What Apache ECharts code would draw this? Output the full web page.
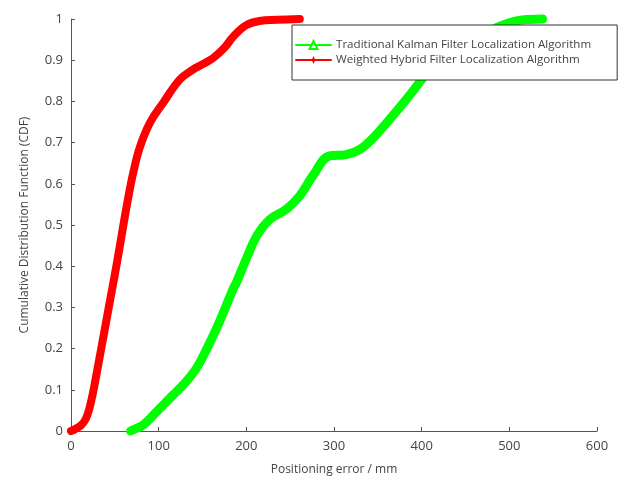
<!DOCTYPE html>
<html><head><meta charset="utf-8">
<script src="https://cdn.jsdelivr.net/npm/echarts@6/dist/echarts.min.js"></script>
<style>html,body{margin:0;padding:0;background:#fff;}#c{width:621px;height:481px;}</style>
</head><body><div id="c"></div>
<script>
const seriesNames = ['Traditional Kalman Filter Localization Algorithm', 'Weighted Hybrid Filter Localization Algorithm'];
const xTicks = [0, 100, 200, 300, 400, 500, 600];
const yTicks = [0, 0.1, 0.2, 0.3, 0.4, 0.5, 0.6, 0.7, 0.8, 0.9, 1];
const greenX = [68, 71, 82.5, 97.7, 113, 128, 143, 155, 166, 175.6, 185, 189, 200, 212, 227, 246, 261, 276, 295, 314, 330, 345, 360, 379, 394, 406, 420, 440, 460, 490, 507, 522, 538];
const greenY = [0, 0.003, 0.015, 0.047, 0.08, 0.112, 0.152, 0.2, 0.249, 0.297, 0.345, 0.362, 0.418, 0.474, 0.514, 0.539, 0.571, 0.62, 0.668, 0.671, 0.684, 0.712, 0.748, 0.796, 0.836, 0.869, 0.895, 0.928, 0.952, 0.983, 0.995, 0.999, 1.0];
const redX = [0, 5, 12, 17, 21, 25, 30, 35, 40, 45, 50, 55, 60, 65, 71, 78.7, 90, 105, 124, 139, 150, 162, 175, 185, 200, 215, 235, 261];
const redY = [0, 0.005, 0.015, 0.03, 0.055, 0.092, 0.148, 0.206, 0.264, 0.322, 0.38, 0.44, 0.503, 0.563, 0.627, 0.69, 0.748, 0.796, 0.853, 0.877, 0.89, 0.905, 0.93, 0.957, 0.985, 0.995, 0.998, 1.0];

const pairs = (xs, ys) => xs.map((x, i) => [x, ys[i]]);
const font = '"Open Sans", "Noto Sans", sans-serif';
const chart = echarts.init(document.getElementById('c'));
chart.setOption({
  animation: false,
  backgroundColor: '#fff',
  grid: { left: 71, right: 24, top: 19, bottom: 48 },
  legend: {
    orient: 'vertical', left: 292, top: 25,
    padding: [14, 26, 14, 3], itemGap: 3, itemWidth: 35, itemHeight: 10,
    backgroundColor: '#fff', borderColor: '#333', borderWidth: 1,
    textStyle: { fontFamily: font, fontSize: 11.6, color: '#444' },
    data: seriesNames
  },
  xAxis: {
    type: 'value', min: 0, max: 600, interval: 100,
    name: 'Positioning error / mm', nameLocation: 'middle', nameGap: 33,
    nameTextStyle: { fontFamily: font, fontSize: 12, color: '#444' },
    axisLine: { lineStyle: { color: '#555' } },
    axisTick: { inside: true, length: 4, lineStyle: { color: '#555' } },
    axisLabel: { fontFamily: font, fontSize: 13, color: '#444', margin: 9, formatter: v => xTicks.includes(v) ? String(v) : '' },
    splitLine: { show: false }
  },
  yAxis: {
    type: 'value', min: 0, max: 1, interval: 0.1,
    name: 'Cumulative Distribution Function (CDF)', nameLocation: 'middle', nameGap: 40,
    nameTextStyle: { fontFamily: font, fontSize: 12, color: '#444' },
    axisLine: { show: true, lineStyle: { color: '#555' } },
    axisTick: { show: true, inside: true, length: 4, lineStyle: { color: '#555' } },
    axisLabel: { fontFamily: font, fontSize: 13, color: '#444', margin: 8,
      formatter: v => { const t = yTicks.find(k => Math.abs(k - v) < 1e-6); return t === undefined ? '' : String(t); } },
    splitLine: { show: false }
  },
  series: [
    { name: seriesNames[0], type: 'line', data: pairs(greenX, greenY), smooth: 0.4,
      symbol: 'emptyTriangle', symbolSize: 8, showSymbol: false, clip: false, z: 2,
      itemStyle: { color: '#00ff00' }, lineStyle: { color: '#00ff00', width: 9, cap: 'round', join: 'round' } },
    { name: seriesNames[1], type: 'line', data: pairs(redX, redY), smooth: 0.4,
      symbol: 'path://M0,-10L3,-3L10,0L3,3L0,10L-3,3L-10,0L-3,-3Z', symbolSize: 10, showSymbol: false, clip: false, z: 2,
      itemStyle: { color: '#ff0000' }, lineStyle: { color: '#ff0000', width: 8, cap: 'round', join: 'round' } }
  ]
});
</script></body></html>
